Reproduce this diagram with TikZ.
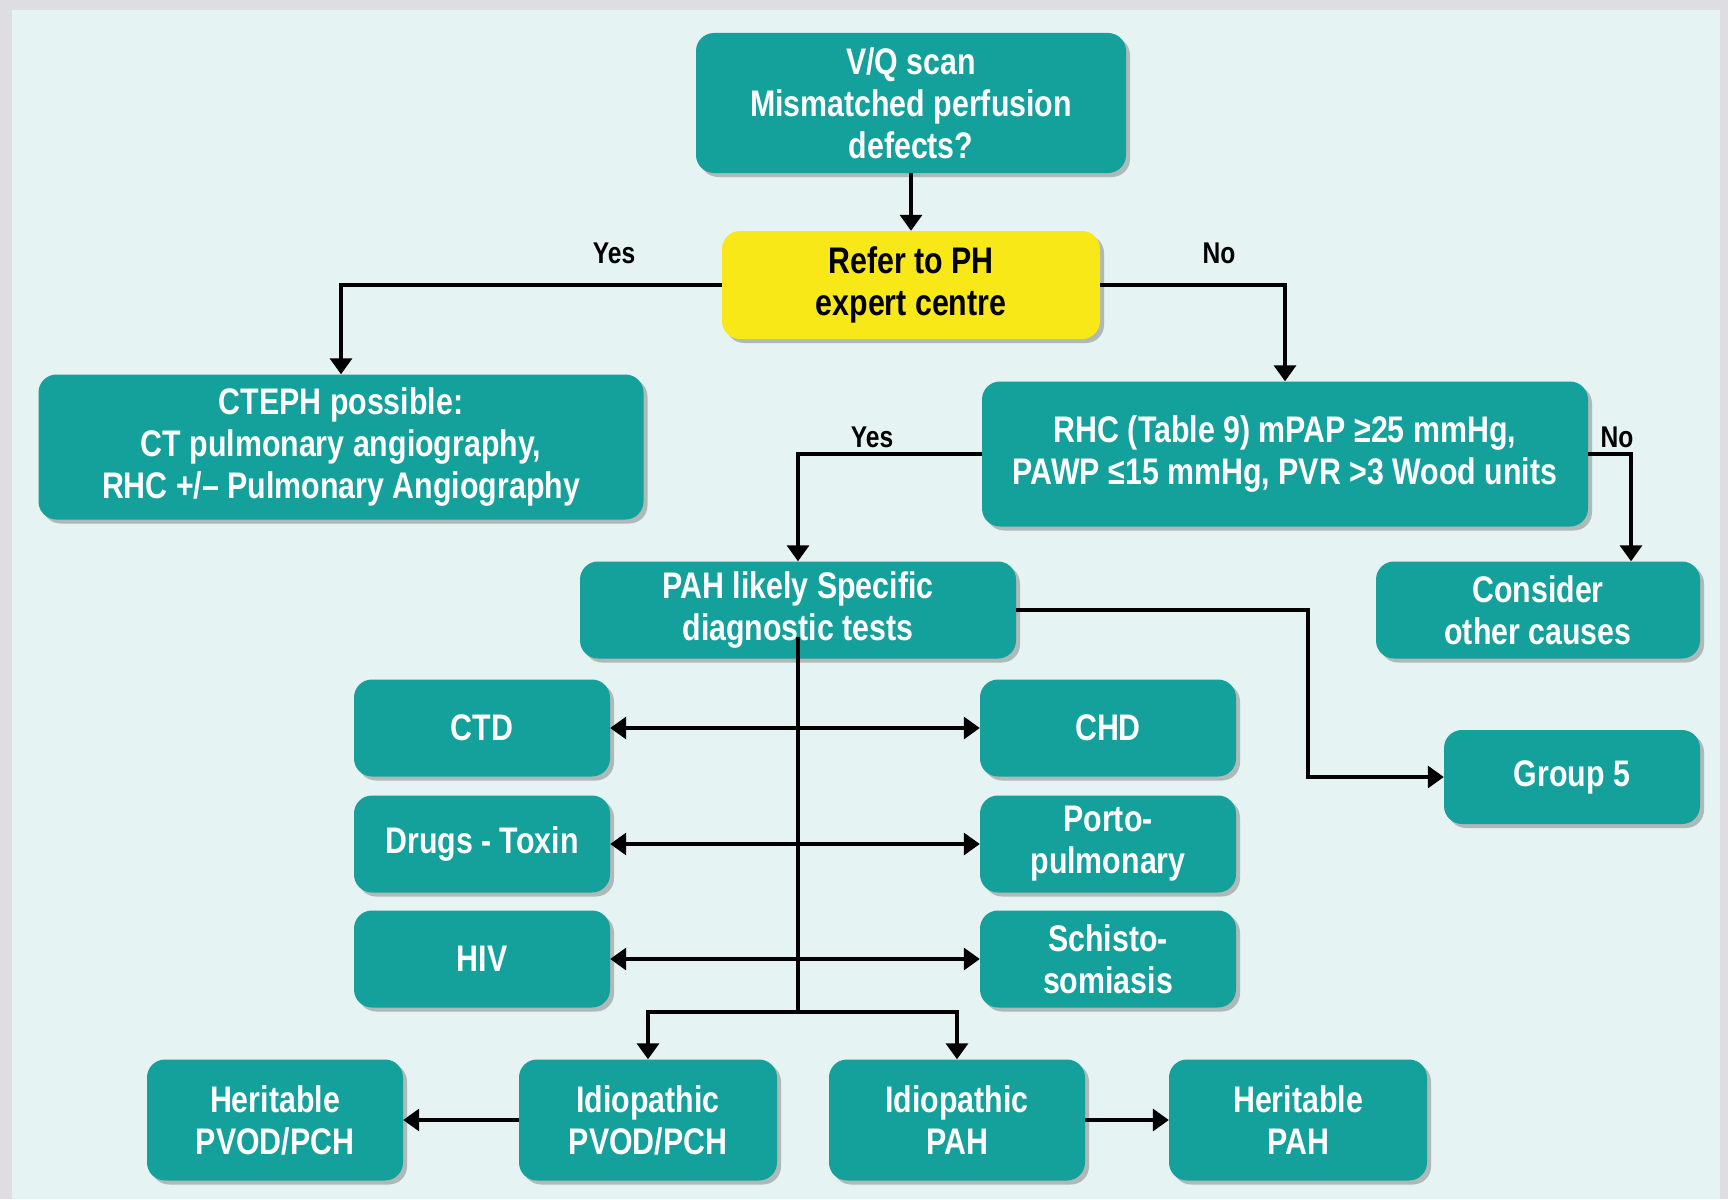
\documentclass[tikz,border=0pt]{standalone}
\usepackage{fontspec}
\setmainfont{Liberation Sans}[FakeStretch=0.82]
\usetikzlibrary{arrows.meta,shadows,calc}
\definecolor{tealbox}{RGB}{20,160,155}
\definecolor{yellowbox}{RGB}{249,232,24}
\definecolor{panelbg}{RGB}{230,243,243}
\definecolor{outerbg}{RGB}{222,222,226}
\tikzset{
  box/.style={rounded corners=18pt, fill=tealbox, text=white, align=center,
    font=\bfseries\fontsize{37}{42}\selectfont, inner sep=0pt,
    drop shadow={shadow xshift=4pt, shadow yshift=-4pt, opacity=0.35, fill=black!70}},
  ybox/.style={box, fill=yellowbox, text=black},
  lbl/.style={font=\bfseries\fontsize{30}{34}\selectfont, text=black, inner sep=0pt},
  conn/.style={line width=3.4pt, draw=black},
  arr/.style={conn, -{Triangle[width=22pt,length=16pt]}},
  darr/.style={conn, {Triangle[width=22pt,length=16pt]}-{Triangle[width=22pt,length=16pt]}},
}
\begin{document}
\begin{tikzpicture}[x=1pt,y=-1pt]
\useasboundingbox (0,0) rectangle (1728,1199);
\fill[outerbg] (0,0) rectangle (1728,1199);
\fill[panelbg] (12,10) rectangle (1720,1199);

% nodes
\node[box, minimum width=430pt, minimum height=140pt] (vq) at (911,103) {V/Q scan\\Mismatched perfusion\\defects?};
\node[ybox, minimum width=378pt, minimum height=108pt] (refer) at (911,285) {Refer to PH\\expert centre};
\node[box, minimum width=605pt, minimum height=145pt] (cteph) at (341,447) {CTEPH possible:\\CT pulmonary angiography,\\RHC +/– Pulmonary Angiography};
\node[box, minimum width=606pt, minimum height=145pt] (rhc) at (1285,454) {RHC (Table 9) mPAP ≥25 mmHg,\\PAWP ≤15 mmHg, PVR >3 Wood units};
\node[box, minimum width=436pt, minimum height=97pt] (pah) at (798,610) {PAH likely Specific\\diagnostic tests};
\node[box, minimum width=324pt, minimum height=97pt] (cons) at (1538,610) {Consider\\other causes};
\node[box, minimum width=256pt, minimum height=94pt] (g5) at (1572,777) {Group 5};
\node[box, minimum width=256pt, minimum height=97pt] (ctd) at (482,728) {CTD};
\node[box, minimum width=256pt, minimum height=97pt] (chd) at (1108,728) {CHD};
\node[box, minimum width=256pt, minimum height=97pt] (drugs) at (482,844) {Drugs - Toxin};
\node[box, minimum width=256pt, minimum height=97pt] (porto) at (1108,844) {Porto-\\pulmonary};
\node[box, minimum width=256pt, minimum height=97pt] (hiv) at (482,959) {HIV};
\node[box, minimum width=256pt, minimum height=97pt] (schisto) at (1108,959) {Schisto-\\somiasis};
\node[box, minimum width=256pt, minimum height=121pt] (hpvod) at (275,1120) {Heritable\\PVOD/PCH};
\node[box, minimum width=258pt, minimum height=121pt] (ipvod) at (648,1120) {Idiopathic\\PVOD/PCH};
\node[box, minimum width=256pt, minimum height=121pt] (ipah) at (957,1120) {Idiopathic\\PAH};
\node[box, minimum width=258pt, minimum height=121pt] (hpah) at (1298,1120) {Heritable\\PAH};

% labels
\node[lbl] (yes1) at (614,253) {Yes};
\node[lbl] (no1) at (1219,253) {No};
\node[lbl] (yes2) at (872,437) {Yes};
\node[lbl] (no2) at (1617,437) {No};

% connectors
\draw[arr] (vq.south) -- (refer.north);
\draw[arr] (refer.west) -| (cteph.north);
\draw[arr] (refer.east) -| (rhc.north);
\draw[arr] (rhc.west) -| (pah.north);
\draw[arr] (rhc.east) -| ([xshift=93pt]cons.north);
\draw[arr] (pah.east) -| ([xshift=-136pt]g5.west) -- (g5.west);
\coordinate (jb) at (798,1012);
\draw[conn] ([yshift=22pt]pah.south) -- (jb);
\draw[darr] (ctd.east) -- (chd.west);
\draw[darr] (drugs.east) -- (porto.west);
\draw[darr] (hiv.east) -- (schisto.west);
\draw[arr] (jb) -| (ipvod.north);
\draw[arr] (jb) -| (ipah.north);
\draw[arr] (ipvod.west) -- (hpvod.east);
\draw[arr] (ipah.east) -- (hpah.west);
\end{tikzpicture}
\end{document}
